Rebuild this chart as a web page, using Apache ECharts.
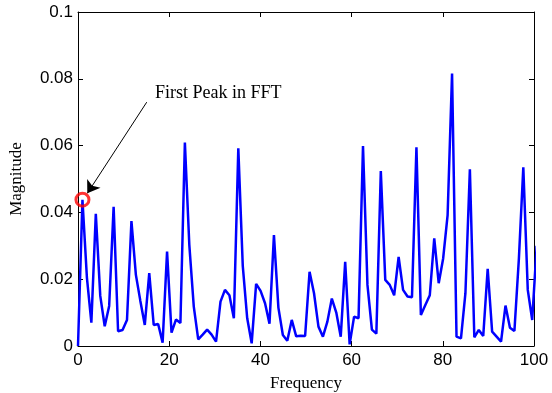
<!DOCTYPE html>
<html><head><meta charset="utf-8">
<script src="https://cdn.jsdelivr.net/npm/echarts@6/dist/echarts.min.js"></script>
<style>html,body{margin:0;padding:0;background:#fff}#c{width:552px;height:393px}</style>
</head><body><div id="c"></div>
<script>
const frequencies = [0, 0.977, 1.953, 2.930, 3.906, 4.883, 5.859, 6.836, 7.813, 8.789, 9.766, 10.742, 11.719, 12.695, 13.672, 14.648, 15.625, 16.602, 17.578, 18.555, 19.531, 20.508, 21.484, 22.461, 23.438, 24.414, 25.391, 26.367, 27.344, 28.320, 29.297, 30.273, 31.250, 32.227, 33.203, 34.180, 35.156, 36.133, 37.109, 38.086, 39.063, 40.039, 41.016, 41.992, 42.969, 43.945, 44.922, 45.898, 46.875, 47.852, 48.828, 49.805, 50.781, 51.758, 52.734, 53.711, 54.688, 55.664, 56.641, 57.617, 58.594, 59.570, 60.547, 61.523, 62.500, 63.477, 64.453, 65.430, 66.406, 67.383, 68.359, 69.336, 70.313, 71.289, 72.266, 73.242, 74.219, 75.195, 76.172, 77.148, 78.125, 79.102, 80.078, 81.055, 82.031, 83.008, 83.984, 84.961, 85.938, 86.914, 87.891, 88.867, 89.844, 90.820, 91.797, 92.773, 93.750, 94.727, 95.703, 96.680, 97.656, 98.633, 99.609, 100.586];
const magnitudes = [0.0000, 0.0438, 0.0205, 0.0070, 0.0396, 0.0150, 0.0059, 0.0120, 0.0417, 0.0044,
  0.0048, 0.0078, 0.0374, 0.0213, 0.0135, 0.0063, 0.0218, 0.0063, 0.0066, 0.0010,
  0.0283, 0.0040, 0.0079, 0.0069, 0.0609, 0.0302, 0.0118, 0.0020, 0.0034, 0.0049,
  0.0034, 0.0013, 0.0133, 0.0168, 0.0152, 0.0083, 0.0592, 0.0240, 0.0083, 0.0008,
  0.0186, 0.0165, 0.0128, 0.0067, 0.0332, 0.0115, 0.0033, 0.0016, 0.0078, 0.0029,
  0.0031, 0.0030, 0.0222, 0.0158, 0.0058, 0.0028, 0.0073, 0.0142, 0.0100, 0.0028,
  0.0252, 0.0005, 0.0088, 0.0083, 0.0599, 0.0183, 0.0049, 0.0037, 0.0524, 0.0198,
  0.0183, 0.0152, 0.0267, 0.0168, 0.0148, 0.0146, 0.0595, 0.0093, 0.0123, 0.0152,
  0.0322, 0.0188, 0.0262, 0.0392, 0.0816, 0.0028, 0.0023, 0.0158, 0.0529, 0.0026,
  0.0048, 0.0030, 0.0231, 0.0043, 0.0028, 0.0013, 0.0121, 0.0055, 0.0045, 0.0260,
  0.0535, 0.0168, 0.0078, 0.0300];
const xTickLabels = ['0', '20', '40', '60', '80', '100'];
const yTickLabels = ['0', '0.02', '0.04', '0.06', '0.08', '0.1'];
const peakIndex = 1;
const annotationText = 'First Peak in FFT';
const arrowStart = [15.07, 0.0730];
const arrowEnd = [2.04, 0.0457];

const chart = echarts.init(document.getElementById('c'), null, {renderer: 'canvas'});
const tickFont = {color: '#000', fontFamily: '"Liberation Sans", Arial, sans-serif', fontSize: 17};
const serif = '"Liberation Serif", "Times New Roman", serif';
const axisCommon = {
  min: 0,
  axisLine: {show: true, onZero: false, lineStyle: {color: '#000', width: 1}},
  axisTick: {show: true, inside: true, length: 5, lineStyle: {color: '#000', width: 1}},
  splitLine: {show: false}
};
chart.setOption({
  animation: false,
  backgroundColor: '#fff',
  grid: {left: 78, right: 18, top: 12, bottom: 47, show: false, containLabel: false, outerBoundsMode: 'none'},
  xAxis: [
    Object.assign({}, axisCommon, {type: 'value', position: 'bottom', max: 100, interval: 20,
      name: 'Frequency', nameLocation: 'middle', nameGap: 29,
      nameTextStyle: {fontFamily: serif, fontSize: 17, color: '#000'},
      axisLabel: Object.assign({}, tickFont, {margin: 6, formatter: (v) => xTickLabels[Math.round(v / 20)]})}),
    Object.assign({}, axisCommon, {type: 'value', position: 'top', max: 100, interval: 20,
      axisLabel: {show: false}})
  ],
  yAxis: [
    Object.assign({}, axisCommon, {type: 'value', position: 'left', max: 0.1, interval: 0.02,
      name: 'Magnitude', nameLocation: 'middle', nameGap: 53,
      nameTextStyle: {fontFamily: serif, fontSize: 17, color: '#000'},
      axisLabel: Object.assign({}, tickFont, {margin: 5, formatter: (v) => yTickLabels[Math.round(v / 0.02)]})}),
    Object.assign({}, axisCommon, {type: 'value', position: 'right', max: 0.1, interval: 0.02,
      axisLabel: {show: false}})
  ],
  series: [
    {
      type: 'line',
      xAxisIndex: 0, yAxisIndex: 0,
      data: frequencies.map((f, i) => [f, magnitudes[i]]),
      showSymbol: false,
      clip: true,
      lineStyle: {color: '#0000ff', width: 2.5},
      itemStyle: {color: '#0000ff'}
    },
    {
      type: 'scatter',
      xAxisIndex: 0, yAxisIndex: 0,
      data: [[frequencies[peakIndex], magnitudes[peakIndex]]],
      symbol: 'circle',
      symbolSize: 13,
      itemStyle: {color: 'rgba(0,0,0,0)', borderColor: '#ff0000', borderWidth: 3},
      z: 5
    },
    {
      type: 'line',
      xAxisIndex: 0, yAxisIndex: 0,
      data: [],
      itemStyle: {color: '#000'},
      lineStyle: {color: '#000'},
      z: 6,
      markLine: {
        silent: true,
        symbol: ['none', 'arrow'],
        symbolSize: 12,
        label: {show: false},
        lineStyle: {color: '#000', width: 1, type: 'solid'},
        itemStyle: {color: '#000'},
        data: [[{coord: arrowStart}, {coord: arrowEnd}]]
      }
    }
  ],
  graphic: [
    {type: 'text', left: 155, top: 84,
     style: {text: annotationText, font: '18px ' + serif, fill: '#000'}}
  ]
});
</script></body></html>
